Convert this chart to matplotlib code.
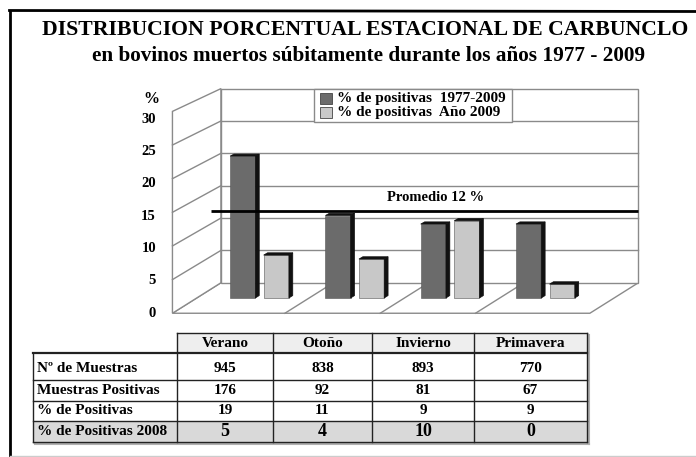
import matplotlib
matplotlib.use("Agg")
import matplotlib.pyplot as plt
from matplotlib.patches import Polygon, Rectangle
from matplotlib.lines import Line2D

# ---------------- data ----------------
seasons = ["Verano", "Otoño", "Invierno", "Primavera"]
pct_1977_2009 = [21.5, 12.5, 11.2, 11.2]
pct_2009 = [6.5, 5.9, 11.7, 2.1]
legend_labels = ["% de positivas  1977-2009", "% de positivas  Año 2009"]
promedio = 12
y_ticks = [0, 5, 10, 15, 20, 25, 30]
row_labels = ["Nº de Muestras", "Muestras Positivas", "% de Positivas", "% de Positivas 2008"]
n_muestras = [945, 838, 893, 770]
muestras_positivas = [176, 92, 81, 67]
pct_positivas = [19, 11, 9, 9]
pct_positivas_2008 = [5, 4, 10, 0]
title1 = "DISTRIBUCION PORCENTUAL ESTACIONAL DE CARBUNCLO"
title2 = "en bovinos muertos súbitamente durante los años 1977 - 2009"

# ---------------- style ----------------
FONT = "Liberation Serif"
plt.rcParams["font.family"] = [FONT, "DejaVu Serif"]
plt.rcParams["font.weight"] = "bold"
DARK = "#6b6b6b"
LIGHT = "#c8c8c8"
GRID = "#8a8a8a"
EDGE3D = "#111111"

W, H = 696, 457
fig = plt.figure(figsize=(W / 100, H / 100), dpi=100)
fig.patch.set_facecolor("white")

def fx(px):
    return px / W

def fy(py):
    return 1 - py / H

# main axes: data coords = mid-depth plane (x: category units, y: percent)
X0, SX = 261.5, 95.3
Y0, SY = 298.0, 6.6
ax = fig.add_axes([0, 0, 1, 1])
ax.set_xlim(-X0 / SX, (W - X0) / SX)
ax.set_ylim((Y0 - H) / SY, Y0 / SY)
ax.axis("off")

DX, DY, K = 48.5 / SX, 30.5 / SY, -0.039

def P(x, v, d):
    """oblique projection: d from -0.5 (front) to 0.5 (back)"""
    return (x + d * DX, v * (1 + K * d) + d * DY)

xL, xR = -0.68, 3.70
ymax = y_ticks[-1]

# walls and floor
floor = Polygon([P(xL, 0, -.5), P(xR, 0, -.5), P(xR, 0, .5), P(xL, 0, .5)],
                closed=True, fc="white", ec=GRID, lw=1.0, zorder=1)
left = Polygon([P(xL, 0, -.5), P(xL, 0, .5), P(xL, ymax, .5), P(xL, ymax, -.5)],
               closed=True, fc="white", ec=GRID, lw=1.0, zorder=1)
back = Polygon([P(xL, 0, .5), P(xR, 0, .5), P(xR, ymax, .5), P(xL, ymax, .5)],
               closed=True, fc="white", ec=GRID, lw=1.0, zorder=1)
for p in (floor, left, back):
    ax.add_patch(p)

for v in y_ticks[1:-1]:
    a, b = P(xL, v, .5), P(xR, v, .5)
    ax.plot([a[0], b[0]], [a[1], b[1]], color=GRID, lw=1.0, zorder=2)
    a, b = P(xL, v, -.5), P(xL, v, .5)
    ax.plot([a[0], b[0]], [a[1], b[1]], color=GRID, lw=1.0, zorder=2)

for i in range(len(seasons) - 1):
    a, b = P(i + .5, 0, -.5), P(i + .5, 0, .5)
    ax.plot([a[0], b[0]], [a[1], b[1]], color=GRID, lw=1.0, zorder=2)

# bars
bw = 0.265
offsets = [-0.197, 0.155]
bd = 0.08
for s, (vals, col) in enumerate(zip([pct_1977_2009, pct_2009], [DARK, LIGHT])):
    xs = [i + offsets[s] for i in range(len(seasons))]
    ax.bar(xs, vals, width=bw, bottom=0, color=col, edgecolor="#555555",
           linewidth=0.4, zorder=5)
    for x, v in zip(xs, vals):
        x0, x1 = x - bw / 2, x + bw / 2
        top = Polygon([P(x0, v, 0), P(x1, v, 0), P(x1, v, bd), P(x0, v, bd)],
                      closed=True, fc=EDGE3D, ec=EDGE3D, lw=0.5, zorder=5)
        side = Polygon([P(x1, 0, 0), P(x1, 0, bd), P(x1, v, bd), P(x1, v, 0)],
                       closed=True, fc=EDGE3D, ec=EDGE3D, lw=0.5, zorder=5)
        ax.add_patch(top)
        ax.add_patch(side)

# promedio line
d_line = 0.285
p1 = P(xL, promedio, d_line)
x_end = xR + 0.5 * DX
ax.plot([p1[0], x_end], [p1[1], p1[1]], color="black", lw=2.0, zorder=8,
        solid_capstyle="butt")
ax.text(1.83, p1[1] + 2.0, f"Promedio {promedio} %", ha="center", va="center",
        fontsize=10.5, fontweight="bold", zorder=9)

# y tick labels
for v in y_ticks:
    ax.text(-1.107, v * (1 + K * .5) - .5 * DY, str(v), ha="right", va="center",
            fontsize=10.5, fontweight="bold")
ax.text(-1.152, ymax * (1 + K * .5) - .5 * DY + 3.0, "%", ha="center", va="center",
        fontsize=11.5, fontweight="bold")

# legend
fig.add_artist(Rectangle((fx(314), fy(121.7)), (512 - 314) / W, (121.7 - 89) / H,
                         transform=fig.transFigure, fc="white", ec=GRID, lw=1.0))
for k, (lab, col) in enumerate(zip(legend_labels, [DARK, LIGHT])):
    ytop = 93 + k * 14
    fig.add_artist(Rectangle((fx(320), fy(ytop + 11)), 12 / W, 11 / H,
                             transform=fig.transFigure, fc=col, ec="#444444", lw=0.6))
    fig.text(fx(337), fy(ytop + 5.5), lab, ha="left", va="center",
             fontsize=11, fontweight="bold")

# titles
fig.text(fx(365), fy(30), title1, ha="center", va="center", fontsize=15.7,
         fontweight="bold")
fig.text(fx(369), fy(56), title2, ha="center", va="center", fontsize=15.3,
         fontweight="bold")

# frame
fig.add_artist(Line2D([fx(9.5), fx(9.5)], [fy(10.5), fy(457)], transform=fig.transFigure,
                      color="black", lw=2.0))
fig.add_artist(Line2D([fx(9.5), 1.0], [fy(10.5), fy(11.5)], transform=fig.transFigure,
                      color="black", lw=2.0))
fig.add_artist(Line2D([fx(9.5), 1.0], [fy(456), fy(456)], transform=fig.transFigure,
                      color="#cccccc", lw=1.0))

# table
col_x = [33, 177, 273, 372, 474, 587]
row_y = [333, 353, 380, 401, 421, 442]
text_y = [369, 390.5, 411, 431.5]
TL = "#222222"
# shadow
fig.add_artist(Line2D([fx(589), fx(589)], [fy(335), fy(444)], transform=fig.transFigure,
                      color="#b0b0b0", lw=1.5))
fig.add_artist(Line2D([fx(35), fx(589)], [fy(444), fy(444)], transform=fig.transFigure,
                      color="#b0b0b0", lw=1.5))
fig.add_artist(Rectangle((fx(col_x[1]), fy(row_y[1])), (col_x[-1] - col_x[1]) / W,
                         (row_y[1] - row_y[0]) / H, transform=fig.transFigure,
                         fc="#eeeeee", ec="none"))
fig.add_artist(Rectangle((fx(col_x[0]), fy(row_y[5])), (col_x[-1] - col_x[0]) / W,
                         (row_y[5] - row_y[4]) / H, transform=fig.transFigure,
                         fc="#d9d9d9", ec="none"))
fig.add_artist(Line2D([fx(col_x[1]), fx(col_x[-1])], [fy(row_y[0])] * 2,
                      transform=fig.transFigure, color=TL, lw=1.0))
for r in row_y[1:]:
    fig.add_artist(Line2D([fx(col_x[0]), fx(col_x[-1])], [fy(r)] * 2,
                          transform=fig.transFigure, color=TL,
                          lw=1.6 if r == row_y[1] else 1.0))
fig.add_artist(Line2D([fx(col_x[0])] * 2, [fy(row_y[1]), fy(row_y[-1])],
                      transform=fig.transFigure, color=TL, lw=1.0))
for c in col_x[1:]:
    fig.add_artist(Line2D([fx(c)] * 2, [fy(row_y[0]), fy(row_y[-1])],
                          transform=fig.transFigure, color=TL, lw=1.0))

centers = [(col_x[j] + col_x[j + 1]) / 2 for j in range(1, 5)]
for j, s in enumerate(seasons):
    fig.text(fx(centers[j]), fy(343.5), s, ha="center", va="center", fontsize=11,
             fontweight="bold")
rows = [n_muestras, muestras_positivas, pct_positivas, pct_positivas_2008]
for r, (lab, vals) in enumerate(zip(row_labels, rows)):
    fig.text(fx(37), fy(text_y[r]), lab, ha="left", va="center", fontsize=11,
             fontweight="bold")
    fs = 13 if r == 3 else 11
    for j, v in enumerate(vals):
        fig.text(fx(centers[j]), fy(text_y[r]), str(v), ha="center", va="center",
                 fontsize=fs, fontweight="bold")

fig.savefig("out.png", dpi=100)
